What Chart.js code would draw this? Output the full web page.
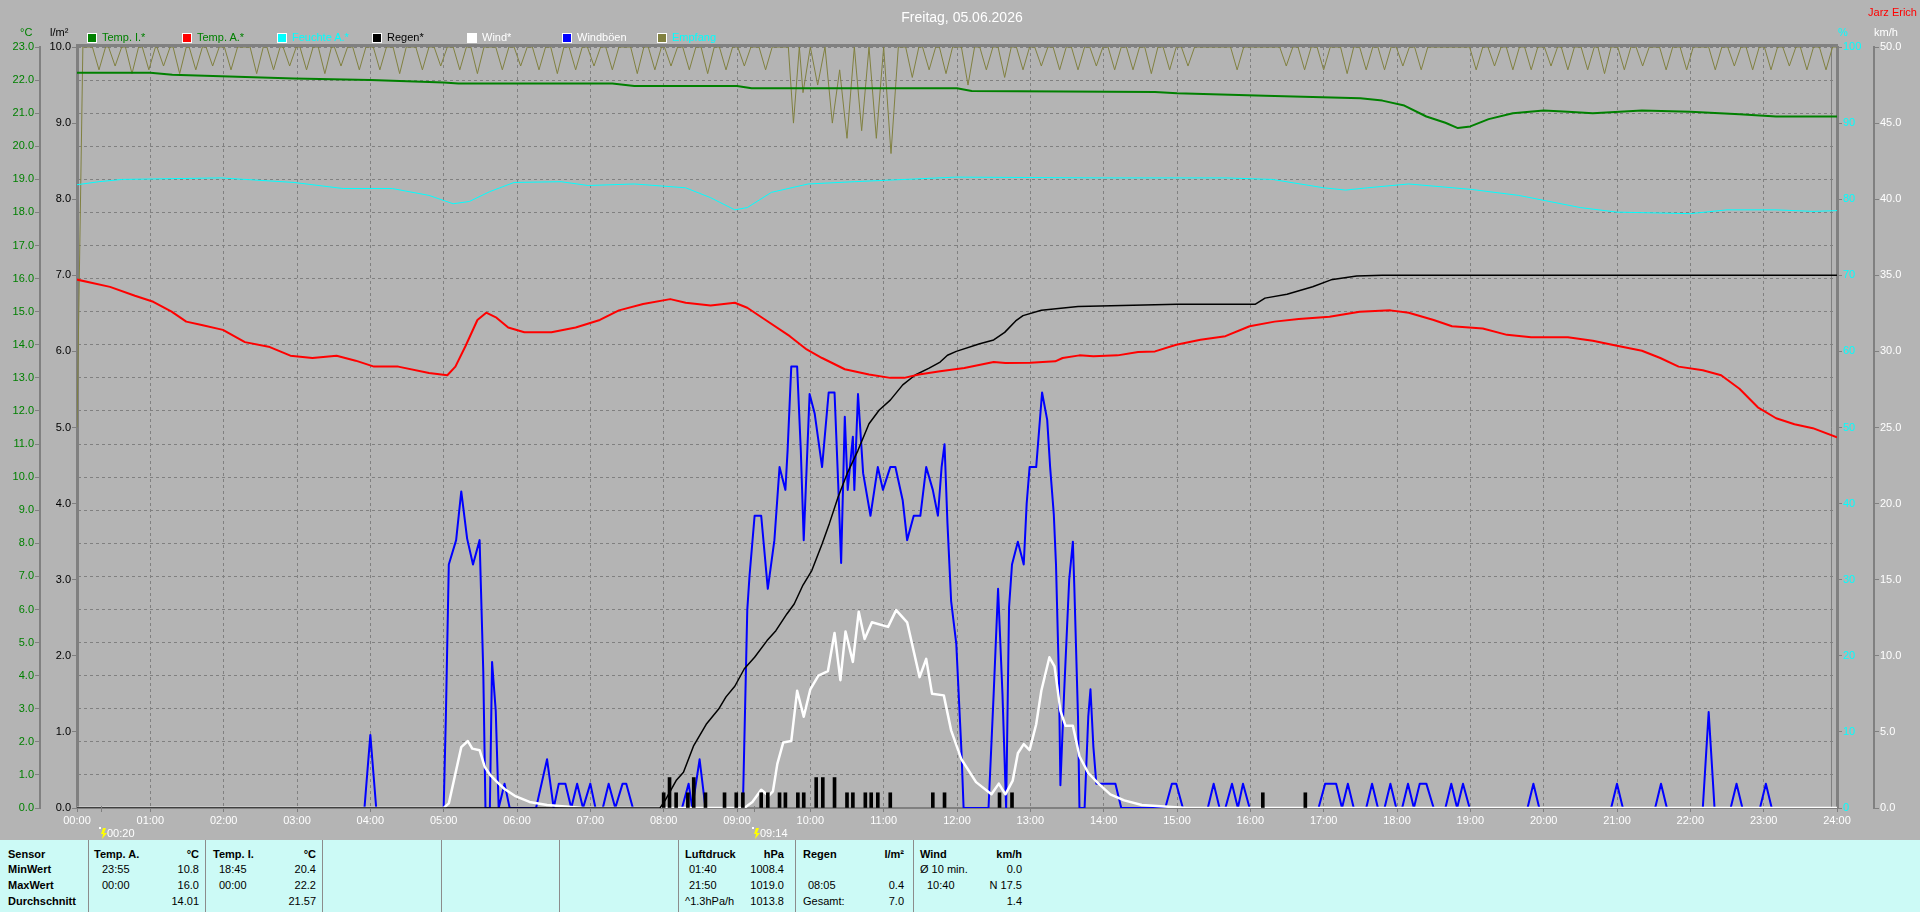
<!DOCTYPE html>
<html lang="de">
<head>
<meta charset="utf-8">
<title>Freitag, 05.06.2026</title>
<script src="https://cdn.jsdelivr.net/npm/chart.js@4.4.1/dist/chart.umd.min.js"></script>
<style>
  html, body { margin: 0; padding: 0; width: 1920px; height: 912px; overflow: hidden;
    background: #b4b4b4; font-family: "Liberation Sans", Arial, sans-serif; font-size: 11px; }
  #chartBox { position: absolute; left: 0; top: 0; width: 1920px; height: 840px; }
  .t { position: absolute; white-space: nowrap; line-height: 13px; }
  .box { position: absolute; width: 8px; height: 8px; border: 1px solid #fff; }
  #table { position: absolute; left: 0; top: 840px; width: 1920px; height: 72px; background: #ccfaf6; }
  #table .sep { position: absolute; top: 0; width: 1px; height: 72px; background: #8c8c8c; }
  #table .b { font-weight: bold; }
</style>
</head>
<body>

<div id="chartBox"><canvas id="wetterChart" width="1920" height="840"></canvas></div>

<!-- header -->
<div class="t" style="left:0;width:1924px;top:9px;text-align:center;font-size:14px;line-height:16px;color:#fff">Freitag, 05.06.2026</div>
<div class="t" style="right:3px;top:6px;color:#ff0000">Jarz Erich</div>
<div class="t" style="left:20px;top:26px;color:#008000">°C</div>
<div class="t" style="left:50px;top:26px;color:#000">l/m²</div>
<div class="t" style="left:1838px;top:26px;color:#00ffff">%</div>
<div class="t" style="left:1874px;top:26px;color:#fff">km/h</div>

<!-- legend -->
<div class="box" style="left:87px;top:33px;background:#008000"></div><div class="t" style="left:102px;top:31px;color:#008000">Temp. I.*</div>
<div class="box" style="left:182px;top:33px;background:#ff0000"></div><div class="t" style="left:197px;top:31px;color:#008000">Temp. A.*</div>
<div class="box" style="left:277px;top:33px;background:#00ffff"></div><div class="t" style="left:292px;top:31px;color:#00ffff">Feuchte A.*</div>
<div class="box" style="left:372px;top:33px;background:#000000"></div><div class="t" style="left:387px;top:31px;color:#000">Regen*</div>
<div class="box" style="left:467px;top:33px;background:#ffffff"></div><div class="t" style="left:482px;top:31px;color:#fff">Wind*</div>
<div class="box" style="left:562px;top:33px;background:#0000ff"></div><div class="t" style="left:577px;top:31px;color:#fff">Windböen</div>
<div class="box" style="left:657px;top:33px;background:#808040"></div><div class="t" style="left:672px;top:31px;color:#00ffff">Empfang</div>

<!-- statistics table -->
<div id="table"></div>

<script>
/**
 * Tageskurven 05.06.2026
 * Zeiten in Stunden (dezimal), 0 = 00:00, 24 = 24:00
 */

const hourTicks = ['00:00', '01:00', '02:00', '03:00', '04:00', '05:00', '06:00', '07:00', '08:00',
    '09:00', '10:00', '11:00', '12:00', '13:00', '14:00', '15:00', '16:00', '17:00', '18:00',
    '19:00', '20:00', '21:00', '22:00', '23:00', '24:00'];

// Temp. I. (°C)
const tempInTimes = [0, 1.0, 1.3, 2.96, 4.0, 5.0, 5.2, 7.3, 7.6, 9.0,
    9.2, 12.0, 12.2, 14.7, 15.0, 16.2, 17.5, 17.8, 18.1, 18.4,
    18.66, 18.83, 19.0, 19.25, 19.58, 20.0, 20.33, 20.67, 21.34, 22.0,
    22.67, 23.17, 24];
const tempInValues = [22.22, 22.22, 22.16, 22.05, 22.0, 21.93, 21.9, 21.9, 21.82, 21.82,
    21.75, 21.75, 21.67, 21.64, 21.6, 21.53, 21.45, 21.38, 21.23, 20.9,
    20.71, 20.55, 20.6, 20.82, 21.0, 21.08, 21.04, 21.0, 21.08, 21.04,
    20.97, 20.9, 20.9];

// Temp. A. (°C)
const tempOutTimes = [0, 0.45, 0.79, 1.04, 1.29, 1.49, 1.7, 1.99, 2.29, 2.63,
    2.91, 3.21, 3.54, 3.8, 4.05, 4.38, 4.8, 5.05, 5.16, 5.3,
    5.46, 5.58, 5.72, 5.88, 6.1, 6.47, 6.8, 7.13, 7.39, 7.72,
    8.09, 8.3, 8.64, 8.97, 9.14, 9.39, 9.72, 9.95, 10.16, 10.47,
    10.8, 11.09, 11.28, 11.48, 11.77, 12.1, 12.5, 12.66, 13.0, 13.34,
    13.44, 13.67, 13.86, 14.19, 14.47, 14.7, 14.99, 15.32, 15.66, 15.99,
    16.33, 16.66, 17.08, 17.49, 17.91, 18.16, 18.5, 18.75, 19.17, 19.5,
    19.83, 20.33, 20.67, 21.0, 21.34, 21.59, 21.84, 22.17, 22.42, 22.67,
    22.92, 23.17, 23.42, 23.67, 24];
const tempOutValues = [15.97, 15.75, 15.48, 15.3, 15.0, 14.7, 14.6, 14.45, 14.08, 13.93,
    13.67, 13.6, 13.67, 13.52, 13.34, 13.34, 13.15, 13.08, 13.34, 13.97,
    14.75, 14.97, 14.82, 14.52, 14.38, 14.38, 14.52, 14.75, 15.04, 15.23,
    15.38, 15.27, 15.19, 15.27, 15.12, 14.75, 14.26, 13.86, 13.6, 13.26,
    13.1, 13.0, 13.0, 13.1, 13.2, 13.3, 13.48, 13.45, 13.46, 13.5,
    13.6, 13.68, 13.65, 13.68, 13.78, 13.8, 14.0, 14.15, 14.26, 14.56,
    14.7, 14.78, 14.85, 15.0, 15.04, 14.97, 14.75, 14.56, 14.49, 14.3,
    14.23, 14.23, 14.12, 13.97, 13.82, 13.6, 13.34, 13.23, 13.08, 12.67,
    12.11, 11.78, 11.6, 11.48, 11.2];

// Feuchte A. (%)
const humidityTimes = [0, 0.3, 0.62, 1.96, 2.96, 3.63, 4.3, 4.8, 5.13, 5.35,
    5.63, 5.96, 6.6, 6.97, 7.6, 8.3, 8.64, 8.97, 9.14, 9.47,
    9.97, 10.6, 11.98, 14.0, 15.66, 16.3, 17.0, 17.3, 17.6, 18.16,
    19.0, 19.66, 20.5, 21.0, 22.0, 22.5, 23.17, 23.67, 24];
const humidityValues = [81.9, 82.3, 82.6, 82.8, 82.2, 81.4, 81.4, 80.5, 79.4, 79.7,
    81.0, 82.2, 82.3, 81.8, 82.0, 81.5, 80.2, 78.6, 78.9, 80.9,
    82.0, 82.3, 82.9, 82.8, 82.8, 82.6, 81.5, 81.2, 81.5, 82.0,
    81.3, 80.5, 78.9, 78.3, 78.1, 78.6, 78.6, 78.4, 78.5];

// Regen* Tagessumme (l/m²)
const rainSumTimes = [0, 7.95, 8.02, 8.17, 8.27, 8.41, 8.58, 8.75, 8.85, 8.97,
    9.1, 9.24, 9.41, 9.53, 9.68, 9.78, 9.9, 10.02, 10.16, 10.26,
    10.38, 10.5, 10.65, 10.8, 10.94, 11.09, 11.26, 11.43, 11.62, 11.77,
    11.87, 11.99, 12.31, 12.5, 12.65, 12.8, 12.9, 13.15, 13.65, 15.0,
    16.07, 16.2, 16.5, 16.85, 17.1, 17.45, 17.8, 24];
const rainSumValues = [0, 0, 0.1, 0.36, 0.47, 0.82, 1.1, 1.3, 1.46, 1.6,
    1.83, 1.98, 2.2, 2.33, 2.55, 2.68, 2.93, 3.12, 3.47, 3.74,
    4.09, 4.39, 4.7, 5.05, 5.23, 5.36, 5.56, 5.69, 5.78, 5.86,
    5.95, 6.0, 6.1, 6.15, 6.25, 6.4, 6.47, 6.54, 6.59, 6.62,
    6.62, 6.7, 6.75, 6.85, 6.94, 6.99, 7.0, 7.0];

// Regen je Intervall (l/m²)
const rainStepTimes = [8.0, 8.08, 8.17, 8.33, 8.41, 8.57, 8.83, 8.99, 9.08, 9.33,
    9.42, 9.58, 9.66, 9.83, 9.91, 10.08, 10.17, 10.33, 10.5, 10.58,
    10.75, 10.83, 10.92, 11.09, 11.67, 11.83, 12.58, 12.75, 16.17, 16.75];
const rainStepValues = [0.2, 0.4, 0.2, 0.2, 0.4, 0.2, 0.2, 0.2, 0.2, 0.2,
    0.2, 0.2, 0.2, 0.2, 0.2, 0.4, 0.4, 0.4, 0.2, 0.2,
    0.2, 0.2, 0.2, 0.2, 0.2, 0.2, 0.2, 0.2, 0.2, 0.2];

// Wind* (km/h)
const windTimes = [0, 5.0, 5.07, 5.24, 5.33, 5.39, 5.49, 5.56, 5.63, 5.73,
    5.83, 5.97, 6.17, 6.41, 6.9, 9.1, 9.21, 9.33, 9.43, 9.49,
    9.55, 9.63, 9.74, 9.82, 9.91, 10.0, 10.11, 10.24, 10.33, 10.41,
    10.48, 10.58, 10.66, 10.74, 10.84, 11.06, 11.17, 11.32, 11.49, 11.58,
    11.66, 11.82, 11.92, 12.06, 12.26, 12.47, 12.57, 12.66, 12.76, 12.83,
    12.91, 12.99, 13.08, 13.15, 13.26, 13.33, 13.41, 13.48, 13.58, 13.67,
    13.79, 13.93, 14.09, 14.28, 14.52, 15.13, 24];
const windValues = [0, 0, 0.3, 4.0, 4.4, 3.9, 3.8, 2.7, 2.2, 1.7,
    1.25, 0.8, 0.4, 0.2, 0, 0, 0.4, 1.2, 0.8, 1.1,
    2.9, 4.3, 4.4, 7.7, 6.0, 7.8, 8.7, 9.0, 11.5, 8.4,
    11.6, 9.6, 12.9, 11.1, 12.2, 11.9, 13.0, 12.2, 8.6, 9.8,
    7.5, 7.4, 5.1, 3.2, 1.7, 0.9, 1.6, 0.9, 1.8, 3.6,
    4.2, 3.8, 5.5, 7.7, 9.9, 9.3, 6.4, 5.4, 5.4, 3.4,
    2.3, 1.6, 0.9, 0.5, 0.2, 0, 0];

// Windböen (km/h)
const gustTimes = [0, 3.92, 4.0, 4.08, 5.0, 5.03, 5.07, 5.17, 5.24, 5.32,
    5.40, 5.49, 5.54, 5.57, 5.63, 5.66, 5.71, 5.75, 5.83, 5.90,
    6.26, 6.41, 6.50, 6.57, 6.66, 6.74, 6.82, 6.90, 7.0, 7.07,
    7.17, 7.25, 7.34, 7.44, 7.49, 7.58, 8.25, 8.34, 8.39, 8.49,
    8.57, 9.08, 9.14, 9.17, 9.24, 9.33, 9.42, 9.51, 9.58, 9.66,
    9.69, 9.74, 9.82, 9.87, 9.91, 9.99, 10.06, 10.16, 10.25, 10.33,
    10.38, 10.42, 10.47, 10.51, 10.58, 10.60, 10.65, 10.72, 10.82, 10.92,
    10.99, 11.09, 11.16, 11.26, 11.32, 11.41, 11.50, 11.58, 11.67, 11.74,
    11.79, 11.83, 11.87, 11.92, 11.99, 12.06, 12.09, 12.43, 12.50, 12.56,
    12.62, 12.67, 12.71, 12.75, 12.83, 12.91, 12.95, 12.99, 13.08, 13.16,
    13.23, 13.27, 13.32, 13.35, 13.39, 13.41, 13.46, 13.53, 13.58, 13.60,
    13.65, 13.67, 13.74, 13.79, 13.82, 13.86, 13.90, 14.16, 14.24, 14.84,
    14.93, 14.99, 15.08, 15.42, 15.50, 15.58, 15.66, 15.75, 15.83, 15.90,
    15.99, 16.93, 17.02, 17.17, 17.25, 17.33, 17.41, 17.58, 17.66, 17.74,
    17.83, 17.91, 17.99, 18.07, 18.15, 18.23, 18.31, 18.40, 18.50, 18.66,
    18.74, 18.82, 18.90, 18.99, 19.78, 19.86, 19.94, 20.92, 21.0, 21.08,
    21.52, 21.6, 21.68, 22.17, 22.25, 22.33, 22.55, 22.63, 22.71, 22.95,
    23.03, 23.11, 24];
const gustValues = [0, 0, 4.8, 0, 0, 6.0, 16.0, 17.6, 20.8, 17.7,
    16.0, 17.6, 9.0, 0, 0, 9.6, 6.4, 0, 1.6, 0,
    0, 3.2, 0, 1.6, 1.6, 0, 1.6, 0, 1.6, 0,
    0, 1.6, 0, 1.6, 1.6, 0, 0, 1.6, 0, 3.2,
    0, 0, 13.0, 15.2, 19.2, 19.2, 14.4, 17.6, 22.4, 20.9,
    23.5, 29.0, 29.0, 23.5, 17.6, 27.2, 25.9, 22.4, 27.3, 27.3,
    21.3, 16.1, 25.7, 20.9, 24.4, 20.9, 27.2, 22.0, 19.2, 22.4,
    20.9, 22.4, 22.4, 20.2, 17.6, 19.2, 19.2, 22.4, 20.9, 19.2,
    22.4, 23.9, 18.7, 13.6, 10.8, 3.8, 0, 0, 7.5, 14.4,
    7.5, 0, 13.2, 16.0, 17.5, 16.0, 20.0, 22.4, 22.4, 27.3,
    25.5, 22.4, 19.3, 16.0, 8.5, 1.5, 7.5, 15.0, 17.5, 14.5,
    6.0, 0, 0, 6.0, 7.8, 4.0, 1.6, 1.6, 0, 0,
    1.6, 1.6, 0, 0, 1.6, 0, 0, 1.6, 0, 1.6,
    0, 0, 1.6, 1.6, 0, 1.6, 0, 0, 1.6, 0,
    0, 1.6, 0, 0, 1.6, 0, 1.6, 1.6, 0, 0,
    1.6, 0, 1.6, 0, 0, 1.6, 0, 0, 1.6, 0,
    0, 1.6, 0, 0, 6.3, 0, 0, 1.6, 0, 0,
    1.6, 0, 0];

// Empfang (%)
const receptionTimes = [0, 0.08,
    0.21, 0.30, 0.39, 0.43, 0.52, 0.61, 0.66, 0.75, 0.84, 0.89, 0.98, 1.07, 1.09, 1.18, 1.27,
    1.31, 1.40, 1.49, 1.53, 1.62, 1.71, 1.76, 1.85, 1.94, 2.01, 2.10, 2.19, 2.36, 2.45, 2.54,
    2.59, 2.68, 2.77, 2.81, 2.90, 2.99, 3.04, 3.13, 3.22, 3.29, 3.38, 3.47, 3.51, 3.60, 3.69,
    3.76, 3.85, 3.94, 4.04, 4.13, 4.22, 4.31, 4.40, 4.49, 4.62, 4.71, 4.80, 4.87, 4.96, 5.05,
    5.13, 5.22, 5.31, 5.37, 5.46, 5.55, 5.71, 5.80, 5.89, 5.96, 6.05, 6.14, 6.21, 6.30, 6.39,
    6.46, 6.55, 6.64, 6.71, 6.80, 6.89, 6.96, 7.05, 7.14, 7.21, 7.30, 7.39, 7.55, 7.64, 7.73,
    7.79, 7.88, 7.97, 8.01, 8.10, 8.19, 8.26, 8.35, 8.44, 8.51, 8.60, 8.69, 8.76, 8.85, 8.94,
    9.01, 9.10, 9.19, 9.30, 9.39, 9.48,
    9.70, 9.77, 9.85, 9.90, 10.0, 10.1, 10.2, 10.3, 10.4, 10.5, 10.6, 10.7, 10.8, 10.9, 11.0, 11.1, 11.2,
    11.30, 11.39, 11.48, 11.53, 11.62, 11.71, 11.76, 11.85, 11.94, 12.06, 12.15, 12.24, 12.31, 12.40, 12.49,
    12.56, 12.65, 12.74, 12.81, 12.90, 12.99, 13.06, 13.15, 13.24, 13.31, 13.40, 13.49, 13.56, 13.65, 13.74,
    13.81, 13.90, 13.99, 14.06, 14.15, 14.24, 14.31, 14.40, 14.49, 14.56, 14.65, 14.74, 14.81, 14.90, 14.99,
    15.06, 15.15, 15.24, 15.73, 15.82, 15.91, 16.40, 16.49, 16.58, 16.65, 16.74, 16.83, 16.91, 17.00, 17.09,
    17.23, 17.32, 17.41, 17.49, 17.58, 17.67, 17.74, 17.83, 17.92, 17.99, 18.08, 18.17, 18.24, 18.33, 18.42,
    18.99, 19.08, 19.17, 19.24, 19.33, 19.42, 19.49, 19.58, 19.67, 19.74, 19.83, 19.92, 20.01, 20.10, 20.19,
    20.24, 20.33, 20.42, 20.51, 20.60, 20.69, 20.74, 20.83, 20.92, 21.01, 21.10, 21.19, 21.26, 21.35, 21.44,
    21.58, 21.67, 21.76, 21.86, 21.95, 22.04, 22.25, 22.34, 22.43, 22.51, 22.60, 22.69, 22.76, 22.85, 22.94,
    23.01, 23.10, 23.19, 23.26, 23.35, 23.44, 23.50, 23.59, 23.68, 23.76, 23.85, 23.94,
    24];
const receptionValues = [50, 100,
    100, 97, 100, 100, 97.5, 100, 100, 96.5, 100, 100, 97, 100, 100, 97.5, 100,
    100, 96.5, 100, 100, 97, 100, 100, 97.5, 100, 100, 97, 100, 100, 96.5, 100,
    100, 97, 100, 100, 97.5, 100, 100, 97, 100, 100, 96.5, 100, 100, 97.5, 100,
    100, 97, 100, 100, 97, 100, 100, 96.5, 100, 100, 97, 100, 100, 97.5, 100,
    100, 97, 100, 100, 96.5, 100, 100, 97, 100, 100, 97.5, 100, 100, 97, 100,
    100, 96.5, 100, 100, 97, 100, 100, 97.5, 100, 100, 97, 100, 100, 96.5, 100,
    100, 97, 100, 100, 97.5, 100, 100, 97, 100, 100, 96.5, 100, 100, 97, 100,
    100, 97.5, 100, 100, 97, 100,
    100, 90, 100, 94, 100, 95, 100, 90, 97, 88, 100, 89, 100, 88, 100, 86, 100,
    100, 96, 100, 100, 97, 100, 100, 96.5, 100, 100, 95, 100, 100, 97, 100,
    100, 96, 100, 100, 97, 100, 100, 97.5, 100, 100, 97, 100, 100, 97, 100,
    100, 97.5, 100, 100, 97, 100, 100, 97, 100, 100, 96.5, 100, 100, 97, 100,
    100, 97.5, 100, 100, 97, 100, 100, 97.5, 100, 100, 97, 100, 100, 97, 100,
    100, 96.5, 100, 100, 97, 100, 100, 97, 100, 100, 97.5, 100, 100, 97, 100,
    100, 97, 100, 100, 97.5, 100, 100, 97, 100, 100, 97, 100, 100, 97.5, 100,
    100, 97, 100, 100, 97, 100, 100, 96.5, 100, 100, 97, 100, 100, 97.5, 100,
    100, 97, 100, 100, 97, 100, 100, 97, 100, 100, 97.5, 100, 100, 97, 100,
    100, 97, 100, 100, 97.5, 100, 100, 97, 100, 100, 97, 100,
    100];

// Markierungen unter der Zeitachse
const eventTimes = ['00:20', '09:14'];

/**
 * Turn a times array and a values array into {x, y} points
 */
function toPoints(times, values) {
    return times.map((t, i) => ({ x: t, y: values[i] }));
}

const tickFont = { family: '"Liberation Sans", Arial, sans-serif', size: 11 };

/**
 * Thick frame on top plus the thin inner line at the right edge
 */
const framePlugin = {
    id: 'frameLines',
    beforeDatasetsDraw(chart) {
        const { ctx, chartArea: a } = chart;
        ctx.save();
        ctx.strokeStyle = '#808080';
        ctx.lineWidth = 3;
        ctx.beginPath();
        ctx.moveTo(a.left - 1, a.top - 1.5);
        ctx.lineTo(a.right + 1, a.top - 1.5);
        ctx.stroke();
        ctx.lineWidth = 1;
        ctx.beginPath();
        ctx.moveTo(a.right - 5.5, a.top);
        ctx.lineTo(a.right - 5.5, a.bottom);
        ctx.stroke();
        ctx.restore();
    }
};

/**
 * Small yellow flash marks with time under the x axis
 */
const eventPlugin = {
    id: 'eventMarks',
    afterDraw(chart) {
        const { ctx } = chart;
        const xScale = chart.scales.x;
        const y0 = chart.chartArea.bottom;
        ctx.save();
        eventTimes.forEach(label => {
            const [hh, mm] = label.split(':').map(Number);
            const px = Math.round(xScale.getPixelForValue(hh + mm / 60));
            ctx.strokeStyle = '#808080';
            ctx.lineWidth = 1;
            ctx.beginPath();
            ctx.moveTo(px + 0.5, y0 - 2);
            ctx.lineTo(px + 0.5, y0 + 4);
            ctx.stroke();
            ctx.fillStyle = '#ffff00';
            ctx.beginPath();
            ctx.moveTo(px + 2, y0 + 20);
            ctx.lineTo(px + 5, y0 + 20);
            ctx.lineTo(px + 3, y0 + 25);
            ctx.lineTo(px + 6, y0 + 25);
            ctx.lineTo(px + 1, y0 + 31);
            ctx.lineTo(px + 2, y0 + 26);
            ctx.lineTo(px, y0 + 26);
            ctx.closePath();
            ctx.fill();
            ctx.fillStyle = '#ffffff';
            ctx.fillRect(px - 2, y0 + 19, 2, 2);
            ctx.font = '11px "Liberation Sans", Arial, sans-serif';
            ctx.textBaseline = 'middle';
            ctx.fillText(label, px + 6, y0 + 26);
        });
        ctx.restore();
    }
};

const chart = new Chart(document.getElementById('wetterChart'), {
    type: 'line',
    data: {
        datasets: [
            { label: 'Temp. I.*', data: toPoints(tempInTimes, tempInValues), yAxisID: 'yT',
              borderColor: '#008000', borderWidth: 2, order: 0 },
            { label: 'Temp. A.*', data: toPoints(tempOutTimes, tempOutValues), yAxisID: 'yT',
              borderColor: '#ff0000', borderWidth: 2, order: 1 },
            { label: 'Regen*', data: toPoints(rainSumTimes, rainSumValues), yAxisID: 'yR',
              borderColor: '#000000', borderWidth: 1.5, order: 2 },
            { type: 'bar', label: 'Regen', data: toPoints(rainStepTimes, rainStepValues), yAxisID: 'yR',
              backgroundColor: '#000000', barThickness: 3, order: 3 },
            { label: 'Wind*', data: toPoints(windTimes, windValues), yAxisID: 'yW',
              borderColor: '#ffffff', borderWidth: 2.5, order: 4 },
            { label: 'Windböen', data: toPoints(gustTimes, gustValues), yAxisID: 'yW',
              borderColor: '#0000ff', borderWidth: 2, order: 5 },
            { label: 'Feuchte A.*', data: toPoints(humidityTimes, humidityValues), yAxisID: 'yP',
              borderColor: '#00ffff', borderWidth: 1, order: 6 },
            { label: 'Empfang', data: toPoints(receptionTimes, receptionValues), yAxisID: 'yP',
              borderColor: '#808040', borderWidth: 1, order: 7 }
        ]
    },
    options: {
        responsive: false,
        animation: false,
        parsing: false,
        normalized: true,
        layout: { padding: { top: 47, left: 0, right: 0, bottom: 0 } },
        elements: {
            point: { radius: 0 },
            line: { tension: 0, fill: false, borderJoinStyle: 'round' }
        },
        plugins: {
            legend: { display: false },
            tooltip: { enabled: false },
            title: { display: false }
        },
        scales: {
            x: {
                type: 'linear', position: 'bottom', min: 0, max: 24, offset: false,
                afterFit: s => { s.height = 32; },
                afterBuildTicks: s => { s.ticks = hourTicks.map((_, i) => ({ value: i })); },
                ticks: { color: '#ffffff', font: tickFont, maxRotation: 0, autoSkip: false, padding: 2,
                         callback: (v, i) => hourTicks[i] },
                grid: { color: '#808080', tickLength: 4, offset: false },
                border: { color: '#808080', width: 2, dash: [3, 3] }
            },
            yT: {
                position: 'left', weight: 2, min: 0, max: 23,
                afterFit: s => { s.width = 40; },
                ticks: { stepSize: 1, color: '#008000', font: tickFont, padding: 1,
                         callback: v => v.toFixed(1) },
                grid: { color: '#808080', tickLength: 5 },
                border: { color: '#808080', width: 2, dash: [3, 3] }
            },
            yR: {
                position: 'left', weight: 1, min: 0, max: 10,
                afterFit: s => { s.width = 37; },
                ticks: { stepSize: 1, color: '#000000', font: tickFont, padding: 1,
                         callback: v => v.toFixed(1) },
                grid: { drawOnChartArea: false, color: '#808080', tickLength: 5 },
                border: { color: '#808080', width: 3 }
            },
            yP: {
                position: 'right', weight: 1, min: 0, max: 100,
                afterFit: s => { s.width = 37; },
                ticks: { stepSize: 10, color: '#00ffff', font: tickFont, padding: 1 },
                grid: { drawOnChartArea: false, color: '#808080', tickLength: 5 },
                border: { color: '#808080', width: 3 }
            },
            yW: {
                position: 'right', weight: 2, min: 0, max: 50,
                afterFit: s => { s.width = 46; },
                ticks: { stepSize: 5, color: '#ffffff', font: tickFont, padding: 1,
                         callback: v => v.toFixed(1) },
                grid: { drawOnChartArea: false, color: '#808080', tickLength: 5 },
                border: { color: '#808080', width: 2 }
            }
        }
    },
    plugins: [framePlugin, eventPlugin]
});

/**
 * Statistics table under the chart
 */
const tableSeparators = [88, 205, 322, 441, 559, 678, 795, 913];
const tableRowTops = [8, 23, 39, 55];
const tableCells = [
    // [x, row, text, align, bold]
    [8, 0, 'Sensor', 'l', 1], [8, 1, 'MinWert', 'l', 1], [8, 2, 'MaxWert', 'l', 1], [8, 3, 'Durchschnitt', 'l', 1],
    [94, 0, 'Temp. A.', 'l', 1], [199, 0, '°C', 'r', 1],
    [102, 1, '23:55', 'l', 0], [199, 1, '10.8', 'r', 0],
    [102, 2, '00:00', 'l', 0], [199, 2, '16.0', 'r', 0],
    [199, 3, '14.01', 'r', 0],
    [213, 0, 'Temp. I.', 'l', 1], [316, 0, '°C', 'r', 1],
    [219, 1, '18:45', 'l', 0], [316, 1, '20.4', 'r', 0],
    [219, 2, '00:00', 'l', 0], [316, 2, '22.2', 'r', 0],
    [316, 3, '21.57', 'r', 0],
    [685, 0, 'Luftdruck', 'l', 1], [784, 0, 'hPa', 'r', 1],
    [689, 1, '01:40', 'l', 0], [784, 1, '1008.4', 'r', 0],
    [689, 2, '21:50', 'l', 0], [784, 2, '1019.0', 'r', 0],
    [685, 3, '^1.3hPa/h', 'l', 0], [784, 3, '1013.8', 'r', 0],
    [803, 0, 'Regen', 'l', 1], [904, 0, 'l/m²', 'r', 1],
    [808, 2, '08:05', 'l', 0], [904, 2, '0.4', 'r', 0],
    [803, 3, 'Gesamt:', 'l', 0], [904, 3, '7.0', 'r', 0],
    [920, 0, 'Wind', 'l', 1], [1022, 0, 'km/h', 'r', 1],
    [920, 1, 'Ø 10 min.', 'l', 0], [1022, 1, '0.0', 'r', 0],
    [927, 2, '10:40', 'l', 0], [1022, 2, 'N 17.5', 'r', 0],
    [1022, 3, '1.4', 'r', 0]
];

function buildTable() {
    const table = document.getElementById('table');
    tableSeparators.forEach(x => {
        const sep = document.createElement('div');
        sep.className = 'sep';
        sep.style.left = x + 'px';
        table.appendChild(sep);
    });
    tableCells.forEach(([x, row, text, align, bold]) => {
        const el = document.createElement('div');
        el.className = 't' + (bold ? ' b' : '');
        el.textContent = text;
        el.style.top = tableRowTops[row] + 'px';
        if (align === 'r') el.style.right = (1920 - x) + 'px';
        else el.style.left = x + 'px';
        table.appendChild(el);
    });
}

buildTable();
</script>
</body>
</html>
